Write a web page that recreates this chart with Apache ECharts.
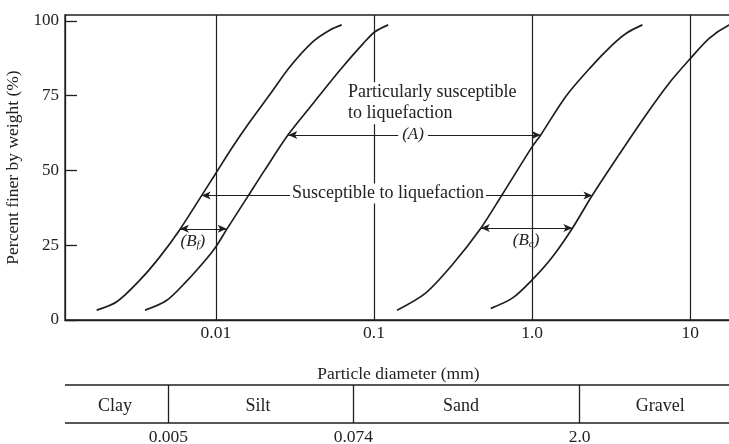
<!DOCTYPE html>
<html>
<head>
<meta charset="utf-8">
<script src="https://cdn.jsdelivr.net/npm/echarts@6/dist/echarts.min.js"></script>
<style>
  html, body { margin: 0; padding: 0; background: #ffffff; }
  #chart { width: 729px; height: 444px; }
</style>
</head>
<body>
<div id="chart"></div>
<script>
// Gradation boundary curves: [particle diameter (mm), percent finer by weight]
const fineLowerCurve = [
  [0.00176, 3.3], [0.00236, 6.1], [0.00331, 13.4], [0.00443, 21.2], [0.00592, 30.3],
  [0.00812, 41.6], [0.0100, 49.1], [0.0128, 58.0], [0.0164, 66.3], [0.0220, 75.5],
  [0.0294, 84.7], [0.0411, 93.1], [0.0527, 97.0], [0.0625, 98.7]
];
const fineUpperCurve = [
  [0.00356, 3.3], [0.00487, 6.5], [0.00653, 13.0], [0.00873, 20.5], [0.0100, 24.5],
  [0.0117, 30.3], [0.0160, 41.5], [0.0204, 50.2], [0.0287, 62.0], [0.0413, 72.5],
  [0.0610, 83.6], [0.0856, 92.5], [0.1014, 96.4], [0.123, 98.7]
];
const coarseLowerCurve = [
  [0.140, 3.3], [0.212, 9.0], [0.313, 18.5], [0.474, 30.7], [0.645, 41.8],
  [1.00, 57.9], [1.135, 61.9], [1.63, 74.7], [2.30, 84.0], [3.22, 92.0],
  [3.97, 96.0], [4.99, 98.7]
];
const coarseUpperCurve = [
  [0.548, 3.9], [0.750, 7.3], [1.00, 13.4], [1.34, 21.0], [1.80, 30.7],
  [2.41, 41.8], [3.55, 55.3], [5.24, 68.5], [7.36, 79.2], [9.86, 87.0],
  [13.2, 94.2], [17.4, 98.5], [19.5, 98.9]
];

// Axis ticks
const xTickValues = [0.01, 0.1, 1, 10];
const xTickLabels = ['0.01', '0.1', '1.0', '10'];
const yTickValues = [0, 25, 50, 75, 100];

// Soil classification bands
const soilBoundaries = [0.005, 0.074, 2.0];
const soilBoundaryLabels = ['0.005', '0.074', '2.0'];
const soilNames = ['Clay', 'Silt', 'Sand', 'Gravel'];

// Range arrows: [from diameter, to diameter, percent finer]
const rangeA = [0.0287, 1.135, 61.9];
const rangeSusceptible = [0.00812, 2.41, 41.6];
const rangeBf = [0.00592, 0.0117, 30.5];
const rangeBc = [0.474, 1.80, 30.8];

const INK = '#1f1f1f';
const TEXT = '#222222';
const FONT = '"Liberation Serif", "DejaVu Serif", serif';
const X_MIN = 0.00111;
const X_MAX = 18.4;

const chart = echarts.init(document.getElementById('chart'), null, { renderer: 'canvas' });

function curveSeries(data) {
  return {
    type: 'line',
    xAxisIndex: 0,
    yAxisIndex: 0,
    data: data,
    smooth: 0.3,
    showSymbol: false,
    symbol: 'none',
    clip: true,
    silent: true,
    lineStyle: { color: INK, width: 1.7 },
    z: 3
  };
}

function arrowLine(range) {
  return [
    { coord: [range[0], range[2]] },
    { coord: [range[1], range[2]] }
  ];
}

const subscriptRich = {
  t: { fontFamily: FONT, fontSize: 17, fontStyle: 'italic', color: TEXT },
  s: { fontFamily: FONT, fontSize: 11, fontStyle: 'italic', color: TEXT, padding: [7, 0, 0, 0] }
};

const option = {
  animation: false,
  backgroundColor: '#ffffff',
  grid: [
    {
      left: 65, right: -3, top: 15, bottom: 124,
      containLabel: false, outerBoundsMode: 'none',
      show: true, borderColor: INK, borderWidth: 1.3, backgroundColor: 'transparent'
    },
    {
      left: 65, right: -3, top: 385, height: 38,
      containLabel: false, outerBoundsMode: 'none', show: false
    }
  ],
  xAxis: [
    {
      type: 'log', logBase: 10, gridIndex: 0, min: X_MIN, max: X_MAX,
      axisLine: { show: true, lineStyle: { color: INK, width: 1.3 } },
      axisTick: { show: false },
      axisLabel: { show: false },
      splitLine: { show: false },
      name: 'Particle diameter (mm)',
      nameLocation: 'middle',
      nameGap: 45,
      nameTextStyle: { fontFamily: FONT, fontSize: 17.5, color: TEXT }
    },
    {
      type: 'log', logBase: 10, gridIndex: 1, min: X_MIN, max: X_MAX,
      show: false
    }
  ],
  yAxis: [
    {
      type: 'value', gridIndex: 0, min: 0, max: 102,
      axisLine: { show: true, lineStyle: { color: INK, width: 1.3 } },
      axisTick: {
        show: true, inside: true, length: 12, customValues: yTickValues,
        lineStyle: { color: INK, width: 1.3 }
      },
      axisLabel: {
        customValues: yTickValues, margin: 6,
        fontFamily: FONT, fontSize: 17, color: TEXT
      },
      splitLine: { show: false },
      name: 'Percent finer by weight (%)',
      nameLocation: 'middle',
      nameGap: 42,
      nameTextStyle: { fontFamily: FONT, fontSize: 17.5, color: TEXT }
    },
    { type: 'value', gridIndex: 1, min: 0, max: 1, show: false }
  ],
  series: [
    // Decade grid lines with their labels
    {
      type: 'line', xAxisIndex: 0, yAxisIndex: 0, data: [], silent: true,
      markLine: {
        silent: true, symbol: ['none', 'none'], animation: false,
        lineStyle: { color: INK, width: 1.2, type: 'solid' },
        label: {
          show: true, position: 'start', distance: 4,
          fontFamily: FONT, fontSize: 17.5, color: TEXT
        },
        data: xTickValues.map(function (v, i) {
          return [
            { coord: [v, 0], label: { formatter: xTickLabels[i] } },
            { coord: [v, 102] }
          ];
        })
      },
      z: 1
    },
    curveSeries(fineLowerCurve),
    curveSeries(fineUpperCurve),
    curveSeries(coarseLowerCurve),
    curveSeries(coarseUpperCurve),
    // Range arrows and annotation texts
    {
      type: 'line', xAxisIndex: 0, yAxisIndex: 0, data: [], silent: true,
      markLine: {
        silent: true, animation: false,
        symbol: ['arrow', 'arrow'], symbolSize: [6, 9],
        lineStyle: { color: INK, width: 1, type: 'solid' },
        label: { show: false },
        data: [arrowLine(rangeA), arrowLine(rangeSusceptible), arrowLine(rangeBf), arrowLine(rangeBc)]
      },
      markPoint: {
        silent: true, animation: false, symbol: 'circle', symbolSize: 0,
        label: { show: true, position: 'inside', fontFamily: FONT, fontSize: 18, color: TEXT },
        data: [
          {
            coord: [0.0675, 72.5],
            label: {
              formatter: 'Particularly susceptible\nto liquefaction',
              align: 'left', lineHeight: 21, backgroundColor: '#ffffff', padding: [0, 1]
            }
          },
          {
            coord: [0.1766, rangeA[2]],
            label: {
              formatter: '(A)', fontStyle: 'italic', fontSize: 17,
              backgroundColor: '#ffffff', padding: [1, 4]
            }
          },
          {
            coord: [0.1227, rangeSusceptible[2] + 0.7],
            label: {
              formatter: 'Susceptible to liquefaction',
              backgroundColor: '#ffffff', padding: [1, 2]
            }
          },
          {
            coord: [0.00715, 26.2],
            label: { formatter: '{t|(B}{s|f}{t|)}', rich: subscriptRich }
          },
          {
            coord: [0.916, 26.6],
            label: { formatter: '{t|(B}{s|c}{t|)}', rich: subscriptRich }
          }
        ]
      },
      z: 5
    },
    // Soil classification table
    {
      type: 'line', xAxisIndex: 1, yAxisIndex: 1, data: [], silent: true,
      markLine: {
        silent: true, animation: false, symbol: ['none', 'none'],
        lineStyle: { color: INK, width: 1.5, type: 'solid' },
        label: { show: false },
        data: [{ yAxis: 0 }, { yAxis: 1 }].concat(
          soilBoundaries.map(function (v, i) {
            return [
              {
                coord: [v, 0],
                lineStyle: { color: INK, width: 1.3 },
                label: {
                  show: true, position: 'start', distance: 5,
                  fontFamily: FONT, fontSize: 17.5, color: TEXT,
                  formatter: soilBoundaryLabels[i]
                }
              },
              { coord: [v, 1] }
            ];
          })
        )
      },
      markPoint: {
        silent: true, animation: false, symbol: 'circle', symbolSize: 0,
        label: { show: true, position: 'inside', fontFamily: FONT, fontSize: 18, color: TEXT },
        data: [
          { coord: [0.00230, 0.44], label: { formatter: soilNames[0] } },
          { coord: [0.01845, 0.44], label: { formatter: soilNames[1] } },
          { coord: [0.3554, 0.44], label: { formatter: soilNames[2] } },
          { coord: [6.46, 0.44], label: { formatter: soilNames[3] } }
        ]
      }
    }
  ]
};

chart.setOption(option);
</script>
</body>
</html>
